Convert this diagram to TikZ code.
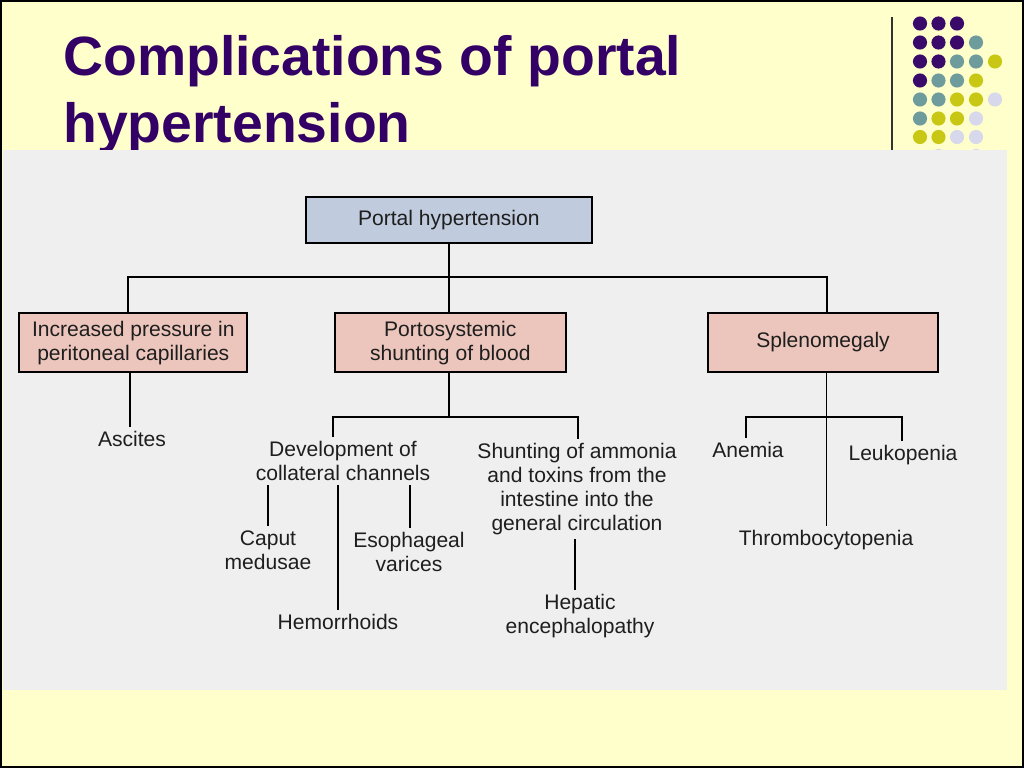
\documentclass[tikz,border=0pt]{standalone}
\usepackage{fontspec}
\setmainfont{Liberation Sans}
\definecolor{bgyellow}{HTML}{FFFFCC}
\definecolor{panelgray}{HTML}{EFEFEF}
\definecolor{titlepurple}{HTML}{330066}
\definecolor{dotP}{HTML}{3A0A6A}
\definecolor{dotT}{HTML}{6E9C9C}
\definecolor{dotY}{HTML}{C8C814}
\definecolor{dotL}{HTML}{D8D8EC}
\definecolor{bluebox}{HTML}{C0CCDE}
\definecolor{pinkbox}{HTML}{ECC6BC}
\definecolor{txt}{HTML}{1E1E1E}
\newcommand\diagfont{\fontsize{15.8}{18}\selectfont}
\newcommand\titlefont{\fontsize{41.5}{50.25}\selectfont\bfseries}
\tikzset{
  box/.style={draw=black, line width=1.4pt, align=center, font=\diagfont, text=txt, inner sep=2pt},
  lbl/.style={align=center, font=\diagfont, text=txt, inner sep=3pt},
  conn/.style={line width=1.4pt, draw=black},
}
\begin{document}
\begin{tikzpicture}[x=0.75pt,y=-0.75pt]
\useasboundingbox (0,0) rectangle (1024,768);
% slide background
\fill[bgyellow] (0,0) rectangle (1024,768);
% title
\node[anchor=base west, align=left, font=\titlefont, text=titlepurple, inner sep=0pt] (title) at (63,142) {Complications of portal\\hypertension};
% decorative rule and dots
\draw[line width=1pt, black!80] (892,17) -- (892,150);
\foreach \cx/\cy/\cc in {
  920/23.5/dotP, 938.5/23.5/dotP, 957/23.5/dotP,
  920/42.5/dotP, 938.5/42.5/dotP, 957/42.5/dotP, 976/42.5/dotT,
  920/61.5/dotP, 938.5/61.5/dotP, 957/61.5/dotT, 976/61.5/dotT, 995/61.5/dotY,
  920/80.5/dotP, 938.5/80.5/dotT, 957/80.5/dotT, 976/80.5/dotY,
  920/99.5/dotT, 938.5/99.5/dotT, 957/99.5/dotY, 976/99.5/dotY, 995/99.5/dotL,
  920/118.5/dotT, 938.5/118.5/dotY, 957/118.5/dotY, 976/118.5/dotL,
  920/137/dotY, 938.5/137/dotY, 957/137/dotL, 976/137/dotL,
  938.5/156/dotL, 976/156/dotL}
  \fill[\cc] (\cx,\cy) circle[radius=5.3pt];
% gray panel
\fill[panelgray] (3,150) rectangle (1007,690);
% outer border
\draw[line width=1.5pt, black] (1,1) rectangle (1023,767);

% ---- diagram ----
\node[box, fill=bluebox, minimum width=214.3pt, minimum height=34pt] (portal) at (448.8,220) {Portal hypertension};
\node[box, fill=pinkbox, minimum width=171pt, minimum height=44.3pt] (incr) at (133.3,342.6) {Increased pressure in\\peritoneal capillaries};
\node[box, fill=pinkbox, minimum width=173pt, minimum height=44.3pt] (portosys) at (450.3,342.8) {Portosystemic\\shunting of blood};
\node[box, fill=pinkbox, minimum width=173pt, minimum height=43.8pt] (spleen) at (823,342.5) {Splenomegaly};

\node[lbl] (ascites) at (132,439) {Ascites};
\node[lbl] (dev) at (343,461) {Development of\\collateral channels};
\node[lbl] (shunt) at (577,489) {Shunting of ammonia\\and toxins from the\\intestine into the\\general circulation};
\node[lbl] (caput) at (268,550) {Caput\\medusae};
\node[lbl] (eso) at (409,552) {Esophageal\\varices};
\node[lbl] (hemo) at (338,622) {Hemorrhoids};
\node[lbl] (hep) at (580,616) {Hepatic\\encephalopathy};
\node[lbl] (anemia) at (748,450) {Anemia};
\node[lbl] (leuko) at (903,455) {Leukopenia};
\node[lbl] (thromb) at (826,540) {Thrombocytopenia};

\coordinate (tj) at (448,276.7);
\coordinate (pj) at (449,416.7);
\coordinate (sj) at (826.5,416.7);

\draw[conn] (portal.south) -- (portal.south |- portosys.north);
\draw[conn] ([xshift=-3.75pt]incr.north) |- (tj) -| ([xshift=2.7pt]spleen.north);

\draw[conn] ([xshift=-2.5pt]incr.south) -- ([xshift=-2.5pt]incr.south |- ascites.north);

\draw[conn] (pj |- portosys.south) -- (pj);
\draw[conn] ([xshift=-7.5pt]dev.north) |- (pj) -| ([xshift=0.5pt]shunt.north);
\draw[conn] (caput.north |- dev.south) -- (caput.north);
\draw[conn] (hemo.north |- dev.south) -- (hemo.north);
\draw[conn] ([xshift=0.75pt]eso.north |- dev.south) -- ([xshift=0.75pt]eso.north);
\draw[conn] ([xshift=-3.75pt]hep.north |- shunt.south) -- ([xshift=-3.75pt]hep.north);

\draw[conn] (sj |- spleen.south) -- (sj |- thromb.north);
\draw[conn] ([xshift=-1.5pt]anemia.north) |- (sj) -| ([xshift=-1pt]leuko.north);
\end{tikzpicture}
\end{document}
